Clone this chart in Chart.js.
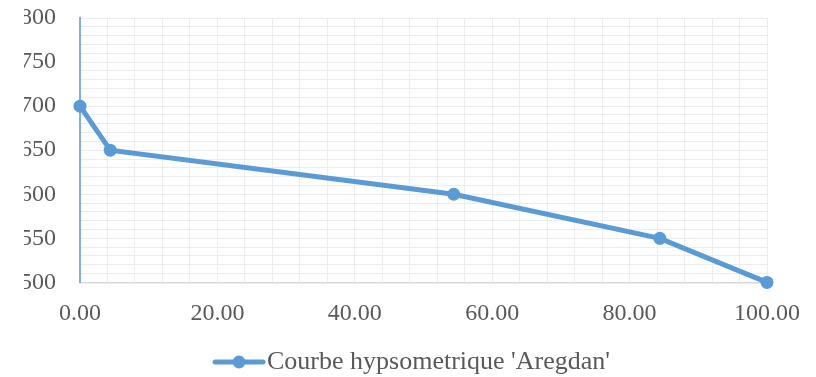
<!DOCTYPE html>
<html>
<head>
<meta charset="utf-8">
<script src="https://cdn.jsdelivr.net/npm/chart.js@4"></script>
<style>
  body { margin: 0; background: #fff; }
  #frame { position: absolute; left: 24px; top: 0; width: 792px; height: 377px; overflow: hidden; }
  #holder { position: absolute; left: -24px; top: 0; width: 816px; height: 377px; }
</style>
</head>
<body>
<div id="frame"><div id="holder"><canvas id="chart-area"></canvas></div></div>
<script>
// area (%) vs altitude (m)
var areaPct = [0, 4.4, 54.4, 84.4, 100];
var altitude = [700, 650, 600, 550, 500];
var seriesName = "Courbe hypsometrique 'Aregdan'";
var blue = '#5B9BD5';
var textGray = '#595959';

// legend sample: line with a dot in the middle
var legendMark = document.createElement('canvas');
legendMark.width = 54;
legendMark.height = 14;
var lc = legendMark.getContext('2d');
lc.strokeStyle = blue;
lc.lineWidth = 5;
lc.lineCap = 'round';
lc.beginPath();
lc.moveTo(3, 7);
lc.lineTo(51, 7);
lc.stroke();
lc.fillStyle = blue;
lc.beginPath();
lc.arc(27, 7, 6.5, 0, Math.PI * 2);
lc.fill();

var points = [];
for (var i = 0; i < areaPct.length; i++) {
    points.push({x: areaPct[i], y: altitude[i]});
}

var config = {
    type: 'line',
    data: {
        datasets: [{
            label: seriesName,
            data: points,
            borderColor: blue,
            backgroundColor: blue,
            borderWidth: 5,
            pointRadius: 6.5,
            pointHoverRadius: 6.5,
            pointBackgroundColor: blue,
            pointBorderWidth: 0,
            tension: 0,
            clip: false
        }]
    },
    options: {
        responsive: true,
        maintainAspectRatio: false,
        animation: false,
        layout: {padding: {top: 18, right: 0, bottom: -8, left: 18}},
        scales: {
            x: {
                type: 'linear',
                min: 0,
                max: 100,
                grid: {color: '#ededed', lineWidth: 1, drawTicks: false},
                border: {color: '#d9d9d9', width: 1.5},
                ticks: {
                    stepSize: 4,
                    autoSkip: false,
                    maxRotation: 0,
                    padding: 17,
                    color: textGray,
                    font: {family: 'Liberation Serif', size: 24},
                    callback: function (v) { return v % 20 === 0 ? v.toFixed(2) : ''; }
                },
                afterFit: function (scale) {
                    scale.height = 66.6;
                    scale.paddingRight = 49;
                }
            },
            y: {
                min: 500,
                max: 800,
                grid: {color: '#ededed', lineWidth: 1, drawTicks: false},
                border: {color: '#7fb0e0', width: 2},
                ticks: {
                    stepSize: 10,
                    autoSkip: false,
                    padding: 24,
                    color: textGray,
                    font: {family: 'Liberation Serif', size: 24},
                    callback: function (v) { return v % 50 === 0 ? v : ''; }
                },
                afterFit: function (scale) {
                    scale.width = 62;
                    scale.paddingTop = 0;
                    scale.paddingBottom = 0;
                }
            }
        },
        plugins: {
            tooltip: {enabled: false},
            legend: {
                position: 'bottom',
                labels: {
                    usePointStyle: true,
                    pointStyle: legendMark,
                    pointStyleWidth: 30,
                    padding: 0,
                    color: textGray,
                    font: {family: 'Liberation Serif', size: 26, lineHeight: 1}
                }
            }
        }
    }
};

window.onload = function () {
    var ctx = document.getElementById('chart-area').getContext('2d');
    window.hypsoChart = new Chart(ctx, config);
};
</script>
</body>
</html>
